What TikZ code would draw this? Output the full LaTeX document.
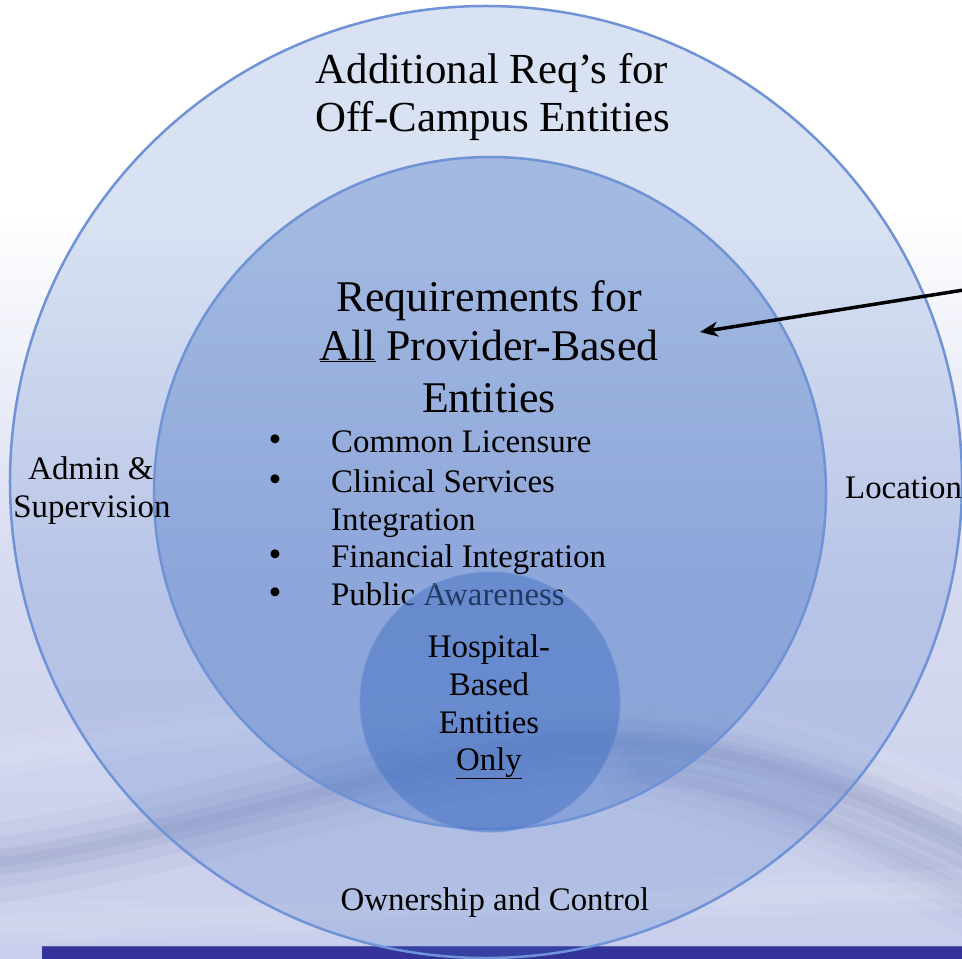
\documentclass[tikz,border=0pt]{standalone}
\usepackage{fontspec}
\setmainfont{Liberation Serif}
\usetikzlibrary{arrows.meta}
\definecolor{ringblue}{RGB}{68,114,196}
\definecolor{edgeblue}{RGB}{111,147,214}
\definecolor{barblue}{RGB}{51,51,154}
\definecolor{barline}{RGB}{90,90,175}
\definecolor{bgmid}{RGB}{214,218,240}
\definecolor{bgbot}{RGB}{184,191,230}
\definecolor{wavecol}{RGB}{95,105,155}
\pgfdeclareverticalshading{bgshade}{100bp}{color(0bp)=(bgbot); color(45bp)=(bgmid); color(64bp)=(white); color(100bp)=(white)}
\begin{document}
\begin{tikzpicture}[x=1bp,y=-1bp,
  ring/.style={circle, draw=edgeblue, line width=2.5bp, fill=ringblue, inner sep=0pt},
  bigtxt/.style={anchor=base, font=\fontsize{44}{50}\selectfont, inner sep=0pt},
  smalltxt/.style={anchor=base, font=\fontsize{33}{38}\selectfont, inner sep=0pt},
  itemtxt/.style={anchor=base west, font=\fontsize{33}{38}\selectfont, inner sep=0pt},
  bulletmark/.style={anchor=base, font=\fontsize{37}{40}\selectfont, inner sep=0pt},
  wavestroke/.style={draw=wavecol, line cap=round},
  pointer/.style={draw=black, line width=3.5bp, -{Stealth[length=18bp,width=15bp]}}]
\useasboundingbox (0,0) rectangle (962,959);
\clip (0,0) rectangle (962,959);
% background
\shade[shading=bgshade] (0,0) rectangle (962,959);
% soft waves
\foreach \w/\o in {80/0.05, 50/0.07, 26/0.09, 10/0.08}{
  \draw[wavestroke, line width=\w bp, opacity=\o]
    (-20,865) .. controls (180,840) and (380,765) .. (560,745)
    .. controls (720,730) and (860,790) .. (990,855);
  \draw[wavestroke, line width=\w bp, opacity=\o*0.6]
    (640,770) .. controls (770,795) and (880,845) .. (990,905);
}
\foreach \w/\o in {40/0.07, 18/0.08}{
  \draw[draw=white, line width=\w bp, opacity=\o, line cap=round]
    (-20,760) .. controls (200,720) and (420,705) .. (620,712)
    .. controls (780,720) and (880,770) .. (990,815);
  \draw[draw=white, line width=\w bp, opacity=\o, line cap=round]
    (-20,925) .. controls (250,915) and (600,900) .. (990,888);
}
% bottom bar
\fill[barblue] (42,946) rectangle (962,959);
\draw[barline, line width=1.5bp] (42,946.5) -- (962,946.5);
% circles
\node[ring, fill opacity=0.2, minimum size=952bp] (outer) at (486,482) {};
\node[ring, fill opacity=0.36, minimum size=672bp] (middle) at (490,493) {};
% outer ring texts
\node[bigtxt, font=\fontsize{43}{50}\selectfont] (top1) at (492,83) {Additional Req’s for};
\node[bigtxt, font=\fontsize{43}{50}\selectfont] (top2) at (493,131) {Off-Campus Entities};
\node[smalltxt] (admin1) at (91,479) {Admin \&};
\node[smalltxt] (admin2) at (92,517) {Supervision};
\node[itemtxt] (loc) at (845,498) {Location};
\node[smalltxt] (own) at (495,910) {Ownership and Control};
% middle circle texts
\node[bigtxt] (req1) at (489,311) {Requirements for};
\node[bigtxt] (req2) at (489,360) {\underline{All} Provider-Based};
\node[bigtxt] (req3) at (489,412) {Entities};
\node[bulletmark] (bu1) at (275,451) {\textbullet};
\node[bulletmark] (bu2) at (275,491) {\textbullet};
\node[bulletmark] (bu3) at (275,566) {\textbullet};
\node[bulletmark] (bu4) at (275,604) {\textbullet};
\node[itemtxt] (it1) at (331,452) {Common Licensure};
\node[itemtxt] (it2) at (331,492) {Clinical Services};
\node[itemtxt] (it2b) at (331,530) {Integration};
\node[itemtxt] (it3) at (331,567) {Financial Integration};
\node[itemtxt] (it4) at (331,605) {Public Awareness};
% inner circle
\node[ring, draw opacity=0.5, fill opacity=0.5, line width=1.5bp, minimum size=260bp] (inner) at (490,702) {};
\node[smalltxt] (hb1) at (489,657) {Hospital-};
\node[smalltxt] (hb2) at (489,695) {Based};
\node[smalltxt] (hb3) at (489,733) {Entities};
\node[smalltxt] (hb4) at (489,770) {\underline{Only}};
% pointer arrow
\coordinate (arrowfrom) at (970,289);
\coordinate (arrowtip) at (700,332);
\draw[pointer] (arrowfrom) -- (arrowtip);
\end{tikzpicture}
\end{document}
